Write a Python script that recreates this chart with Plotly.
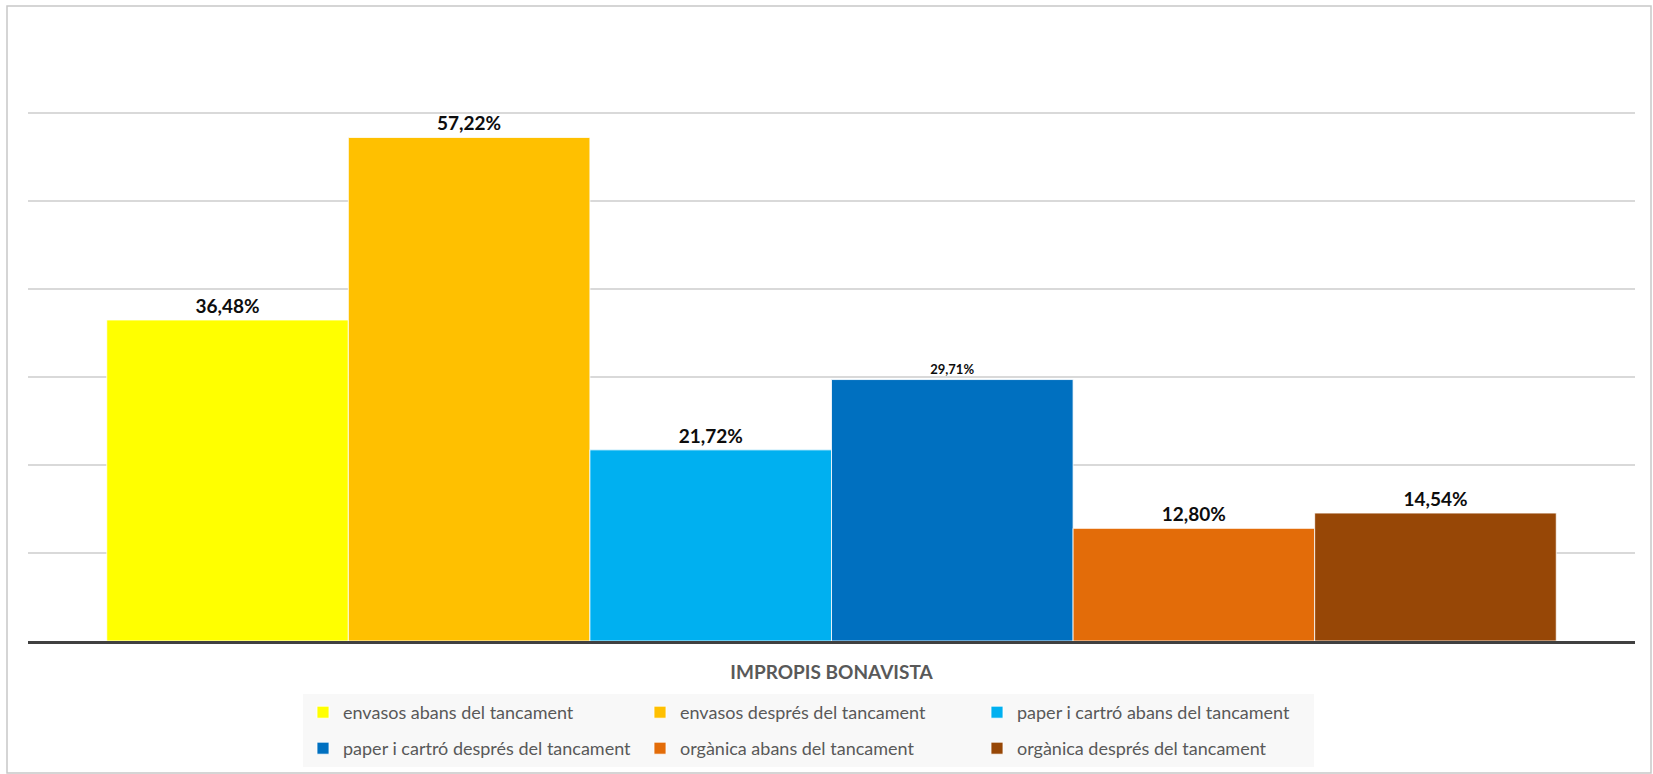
import plotly.graph_objects as go

category = ["IMPROPIS BONAVISTA"]
series_names = [
    "envasos abans del tancament",
    "envasos després del tancament",
    "paper i cartró abans del tancament",
    "paper i cartró després del tancament",
    "orgànica abans del tancament",
    "orgànica després del tancament",
]
values = [36.48, 57.22, 21.72, 29.71, 12.80, 14.54]
colors = ["#FFFF00", "#FFC000", "#00B0F0", "#0070C0", "#E36C09", "#974706"]
label_sizes = [19, 19, 19, 13, 19, 19]
legend_ids = ["legend", "legend", "legend", "legend2", "legend2", "legend2"]

FONT = "Lato"

fig = go.Figure()
for name, v, c, s, lg in zip(series_names, values, colors, label_sizes, legend_ids):
    fig.add_trace(go.Bar(
        x=category, y=[v], name=name, legend=lg,
        marker=dict(color=c, line=dict(color="rgba(255,255,255,0.8)", width=1)),
        texttemplate="%{y:.2f}%", textposition="outside",
        textfont=dict(family=FONT, size=s, color="#0d0d0d", weight="bold"),
        cliponaxis=False,
    ))

L, R, T, B = 28, 18, 25, 133
W, H = 1653, 774
pw, ph = W - L - R, H - T - B

def px_x(p):
    return (p - L) / pw

def px_y(p):
    return (H - B - p) / ph

legend_common = dict(
    orientation="h", xanchor="left", yanchor="top",
    bgcolor="#F8F8F8", font=dict(family=FONT, size=18, color="#595959"),
    entrywidth=292, entrywidthmode="pixels", traceorder="normal",
    itemclick=False, itemdoubleclick=False,
)

fig.update_layout(
    width=W, height=H,
    margin=dict(l=L, r=R, t=T, b=B, autoexpand=False),
    separators=",.",
    barmode="group", bargap=0.098, bargroupgap=0,
    plot_bgcolor="white", paper_bgcolor="white",
    font=dict(family=FONT, color="#595959"),
    showlegend=True,
    legend=dict(x=px_x(303), y=px_y(694), **legend_common),
    legend2=dict(x=px_x(303), y=px_y(730), **legend_common),
    xaxis=dict(
        showline=True, linecolor="#404040", linewidth=2.5,
        ticks="outside", ticklen=12, tickcolor="rgba(0,0,0,0)",
        tickfont=dict(family=FONT, size=19, color="#595959", weight="bold"),
        showgrid=False,
    ),
    yaxis=dict(
        range=[0, 70], dtick=10, showticklabels=False,
        showgrid=True, gridcolor="#D9D9D9", gridwidth=1.5,
        zeroline=False, fixedrange=True,
    ),
    shapes=[dict(
        type="rect", xref="paper", yref="paper",
        x0=px_x(7), x1=px_x(1651), y0=px_y(773), y1=px_y(6),
        line=dict(color="#C8C8C8", width=1.5), fillcolor="rgba(0,0,0,0)",
        layer="below",
    )],
)

fig.write_html(
    "out.html",
    config={"displayModeBar": False},
    post_script="document.body.style.margin='0';document.body.style.overflow='hidden';",
)
